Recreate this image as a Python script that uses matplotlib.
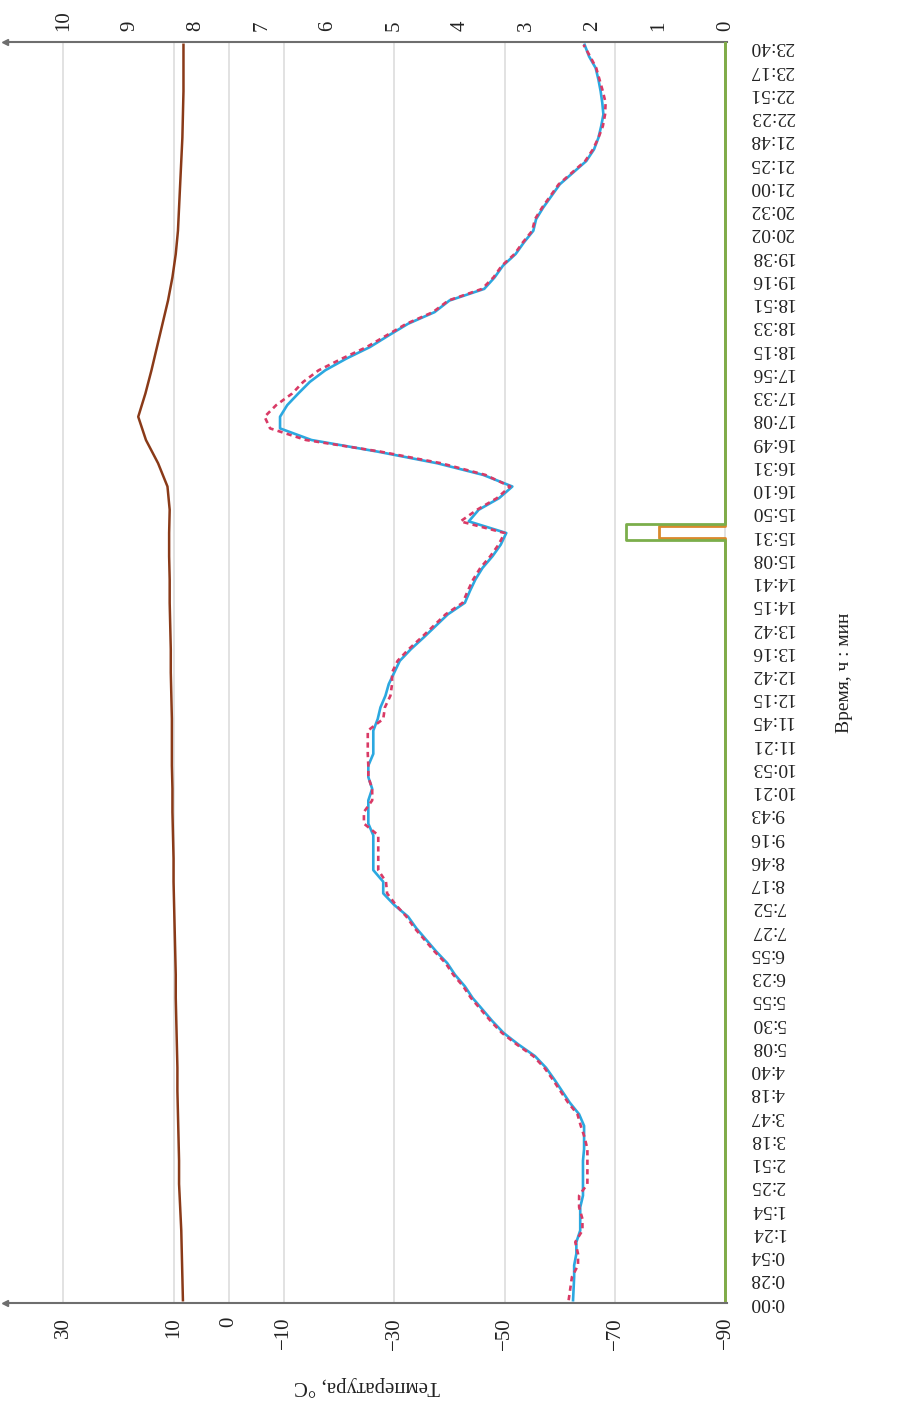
import matplotlib
matplotlib.use('Agg')
import matplotlib.pyplot as plt
import numpy as np

# ---------------- data ----------------
time_labels = ['0:00', '0:28', '0:54', '1:24', '1:54', '2:25', '2:51', '3:18', '3:47', '4:18',
               '4:40', '5:08', '5:30', '5:55', '6:23', '6:55', '7:27', '7:52', '8:17', '8:46',
               '9:16', '9:43', '10:21', '10:53', '11:21', '11:45', '12:15', '12:42', '13:16', '13:42',
               '14:15', '14:41', '15:08', '15:31', '15:50', '16:10', '16:31', '16:49', '17:08', '17:33',
               '17:56', '18:15', '18:33', '18:51', '19:16', '19:38', '20:02', '20:32', '21:00', '21:25',
               '21:48', '22:23', '22:51', '23:17', '23:40']

# temperature, sampled every half label interval
blue_vals = [-62.4, -62.5, -62.6, -62.6, -63.0, -63.0, -63.7, -63.7, -63.7, -64.2,
             -64.2, -64.2, -64.2, -64.4, -64.4, -64.4, -63.5, -61.8, -60.4, -59.0,
             -57.5, -55.5, -52.5, -49.8, -47.8, -46.0, -44.2, -42.8, -41.0, -39.6,
             -37.6, -35.8, -34.0, -32.5, -30.0, -28.0, -28.0, -26.2, -26.2, -26.2,
             -26.2, -25.3, -25.3, -25.3, -26.0, -25.3, -25.3, -26.2, -26.2, -26.2,
             -27.0, -27.5, -28.4, -29.0, -30.0, -31.0, -33.0, -35.3, -37.5, -39.7,
             -42.8, -43.7, -44.7, -46.0, -47.8, -49.3, -50.3, -43.5, -45.3, -49.0,
             -51.4, -46.1, -37.8, -27.0, -15.0, -9.3, -9.3, -10.6, -12.6, -14.7,
             -17.5, -21.3, -25.6, -29.0, -32.5, -37.3, -40.0, -46.3, -48.2, -49.7,
             -52.0, -53.5, -55.2, -55.7, -57.0, -58.5, -60.0, -62.4, -64.8, -66.2,
             -67.0, -67.5, -67.9, -67.7, -67.4, -67.0, -66.5, -65.3, -64.5]

red_vals = [-61.6, -61.9, -62.2, -63.3, -63.3, -62.8, -64.1, -64.1, -63.5, -63.5,
            -65.0, -65.0, -65.0, -65.0, -64.5, -63.8, -63.2, -61.5, -60.1, -58.7,
            -57.2, -55.2, -52.2, -49.5, -47.5, -45.7, -43.9, -42.5, -40.7, -39.3,
            -37.3, -35.5, -33.7, -32.2, -30.3, -28.7, -28.5, -27.1, -27.1, -27.1,
            -27.1, -24.5, -24.5, -26.0, -26.0, -25.3, -25.3, -25.2, -25.2, -25.2,
            -28.0, -28.3, -29.3, -29.6, -29.6, -30.6, -32.6, -34.9, -37.1, -39.3,
            -42.4, -43.3, -44.3, -45.6, -47.4, -48.9, -50.0, -42.0, -45.0, -48.6,
            -51.0, -46.5, -38.5, -27.5, -14.0, -7.5, -6.5, -8.6, -11.5, -13.5,
            -16.3, -20.5, -25.0, -28.6, -32.2, -37.0, -39.8, -45.9, -48.0, -49.5,
            -51.8, -53.3, -55.0, -55.5, -56.8, -58.3, -59.8, -62.2, -64.6, -66.0,
            -67.0, -67.8, -68.2, -68.3, -67.8, -67.2, -66.6, -65.5, -64.3]

# temperature, sampled at every label
brown_vals = [8.3, 8.4, 8.5, 8.6, 8.8, 9.0, 9.0, 9.1, 9.2, 9.3,
              9.3, 9.4, 9.5, 9.6, 9.6, 9.7, 9.8, 9.9, 10.0, 10.0,
              10.1, 10.2, 10.2, 10.3, 10.3, 10.3, 10.4, 10.5, 10.5, 10.6,
              10.7, 10.7, 10.8, 10.8, 10.7, 11.1, 12.8, 15.0, 16.4, 15.1,
              14.0, 13.0, 12.0, 11.0, 10.2, 9.6, 9.2, 9.0, 8.8, 8.6,
              8.4, 8.3, 8.2, 8.2, 8.2]

# secondary-axis series (label-index time, value)
green_t = [0, 32.72, 32.72, 33.38, 33.38, 54.12]
green_v = [0, 0, 1.5, 1.5, 0, 0]
orange_t = [0, 32.80, 32.80, 33.30, 33.30, 54.12]
orange_v = [0, 0, 1.0, 1.0, 0, 0]

temp_ticks = [30, 10, 0, -10, -30, -50, -70, -90]
temp_tick_labels = ['30', '10', '0', '\u221210', '\u221230', '\u221250', '\u221270', '\u221290']
sec_ticks = list(range(0, 11))

# ---------------- figure ----------------
plt.rcParams['font.family'] = ['Liberation Serif', 'DejaVu Serif']
plt.rcParams['axes.unicode_minus'] = True

W, H = 923, 1426
fig = plt.figure(figsize=(W / 100, H / 100), dpi=100)
L, R, T, B = 8, 727, 42, 1303
ax = fig.add_axes([L / W, 1 - B / H, (R - L) / W, (B - T) / H])

T_LEFT, T_RIGHT = 40.0, -90.3
Y_LO, Y_HI = -0.12, 54.12
ax.set_xlim(T_LEFT, T_RIGHT)
ax.set_ylim(Y_LO, Y_HI)

half_idx = np.arange(len(blue_vals)) * 0.5
full_idx = np.arange(len(brown_vals))

ax.plot(blue_vals, half_idx, color='#2BA8E0', lw=1.9, zorder=3)
ax.plot(red_vals, half_idx, color='#D93A66', lw=1.9,
        linestyle=(0, (2.0, 1.6)), zorder=4)
ax.plot(brown_vals, full_idx, color='#8A3A18', lw=1.8, zorder=3)

# grid
ax.set_xticks(temp_ticks)
ax.set_xticklabels(temp_tick_labels, rotation=90, fontsize=15, color='#222222')
ax.grid(axis='x', color='#dddddd', lw=1.2, zorder=0)
ax.tick_params(axis='x', length=0, pad=10)

# time axis on the right
ax.yaxis.tick_right()
ax.yaxis.set_label_position('right')
ax.set_yticks(range(len(time_labels)))
ax.set_yticklabels(time_labels, rotation=180, fontsize=14, color='#222222')
ax.tick_params(axis='y', length=0, pad=16.5)
ax.set_ylabel('Время, ч : мин', rotation=90, fontsize=14, labelpad=30, color='#222222')
ax.set_xlabel('Температура, °С', rotation=180, fontsize=15, labelpad=19, color='#222222')

for s in ['left', 'right']:
    ax.spines[s].set_visible(False)
for s in ['top', 'bottom']:
    ax.spines[s].set_color('#6e6e6e')
    ax.spines[s].set_linewidth(1.5)

# arrowheads at the left ends of both axis lines
for yy in (0, 1):
    ax.plot([-0.004], [yy], marker='<', ms=5, color='#6e6e6e', transform=ax.transAxes,
            clip_on=False, zorder=6)

# secondary axis (0..10) on top
ax2 = ax.twiny()
ax2.set_xlim((T_LEFT + 90) / 12, (T_RIGHT + 90) / 12)
ax2.set_ylim(Y_LO, Y_HI)
ax2.plot(orange_v, orange_t, color='#D9892C', lw=2.0, zorder=3)
ax2.plot(green_v, green_t, color='#7BAE4B', lw=2.0, zorder=4)
ax2.set_xticks(sec_ticks)
ax2.set_xticklabels([str(v) for v in sec_ticks], rotation=90, fontsize=15, color='#222222')
ax2.tick_params(axis='x', length=0, pad=8)
for s in ax2.spines.values():
    s.set_visible(False)

fig.savefig('out.png', dpi=100)
